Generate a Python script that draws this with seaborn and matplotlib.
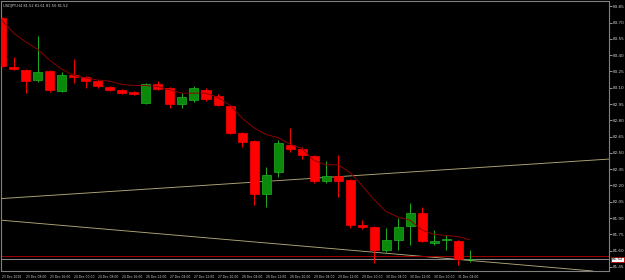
import matplotlib
matplotlib.use("Agg")
import matplotlib.pyplot as plt
import matplotlib.transforms as mtransforms
import seaborn as sns
import pandas as pd

title_text = "USDJPY,H4 81.52 81.61 81.50 81.52"

opens = [83.74, 83.29, 83.26, 83.17, 83.25, 83.07, 83.22, 83.20, 83.16, 83.11,
         83.08, 83.06, 82.96, 83.13, 83.10, 82.95, 82.99, 83.08, 83.02, 82.93,
         82.68, 82.61, 82.12, 82.32, 82.57, 82.54, 82.47, 82.24, 82.29, 82.25,
         81.84, 81.82, 81.61, 81.70, 81.83, 81.95, 81.67, 81.70, 81.69, 81.52]
highs = [83.75, 83.38, 83.27, 83.58, 83.26, 83.24, 83.36, 83.21, 83.17, 83.12,
         83.09, 83.07, 83.14, 83.16, 83.11, 83.05, 83.12, 83.10, 83.04, 82.94,
         82.69, 82.62, 82.37, 82.62, 82.73, 82.55, 82.48, 82.43, 82.48, 82.26,
         81.88, 81.83, 81.81, 81.90, 82.04, 82.00, 81.79, 81.74, 81.70, 81.61]
lows = [83.29, 83.26, 83.05, 83.15, 83.06, 83.06, 83.14, 83.10, 83.10, 83.07,
        83.04, 83.03, 82.95, 83.08, 82.91, 82.91, 82.97, 82.98, 82.93, 82.67,
        82.55, 82.02, 82.00, 82.28, 82.51, 82.44, 82.22, 82.22, 82.09, 81.81,
        81.80, 81.49, 81.59, 81.61, 81.65, 81.68, 81.65, 81.61, 81.47, 81.50]
closes = [83.30, 83.27, 83.16, 83.24, 83.08, 83.22, 83.20, 83.16, 83.12, 83.08,
          83.05, 83.04, 83.13, 83.09, 82.95, 83.01, 83.10, 83.00, 82.94, 82.68,
          82.60, 82.12, 82.30, 82.59, 82.54, 82.48, 82.24, 82.29, 82.24, 81.84,
          81.82, 81.61, 81.70, 81.82, 81.95, 81.69, 81.69, 81.71, 81.52, 81.52]

ma_values = [83.72, 83.60, 83.52, 83.45, 83.35, 83.27, 83.21, 83.19, 83.17, 83.16,
             83.13, 83.12, 83.12, 83.11, 83.08, 83.05, 83.05, 83.05, 83.01, 82.94,
             82.82, 82.73, 82.67, 82.64, 82.58, 82.54, 82.43, 82.39, 82.39, 82.32,
             82.20, 82.07, 81.96, 81.91, 81.88, 81.79, 81.75, 81.74, 81.73, 81.70]

x_labels = ["23 Dec 2010", "23 Dec 08:00", "23 Dec 16:00", "24 Dec 00:00",
            "24 Dec 08:00", "24 Dec 16:00", "26 Dec 22:00", "27 Dec 04:00",
            "27 Dec 12:00", "27 Dec 20:00", "28 Dec 04:00", "28 Dec 12:00",
            "28 Dec 20:00", "29 Dec 04:00", "29 Dec 12:00", "29 Dec 20:00",
            "30 Dec 04:00", "30 Dec 12:00", "30 Dec 20:00", "31 Dec 04:00"]
x_label_bars = [0, 2, 4, 6, 8, 10, 12, 14, 16, 18,
                20, 22, 24, 26, 28, 30, 32, 34, 36, 38]

y_ticks = [81.45, 81.60, 81.75, 81.90, 82.05, 82.20, 82.35, 82.50, 82.65,
           82.80, 82.95, 83.10, 83.25, 83.40, 83.55, 83.70, 83.85]

trend_a_x = [0, 39]
trend_a_y = [82.08, 82.36]
trend_b_x = [0, 39]
trend_b_y = [81.88, 81.51]

bid_price = 81.52
ask_price = 81.55

sns.set_theme(style="dark", rc={
    "axes.facecolor": "black",
    "figure.facecolor": "black",
    "axes.edgecolor": "#808080",
    "text.color": "#d0d0d0",
    "xtick.color": "#d0d0d0",
    "ytick.color": "#d0d0d0",
    "axes.grid": False,
})
plt.rcParams["font.family"] = ["DejaVu Sans"]

fig = plt.figure(figsize=(6.25, 2.8), dpi=100)
ax = fig.add_axes([1.5 / 625, 9 / 280, (609 - 1.5) / 625, 270 / 280])
ax.set_facecolor("black")

df = pd.DataFrame({"bar": range(len(opens)), "open": opens, "high": highs,
                   "low": lows, "close": closes, "ma": ma_values})

# trend lines
line_col = "#b0a878"
ax.axline((trend_a_x[0], trend_a_y[0]), (trend_a_x[1], trend_a_y[1]),
          color=line_col, lw=0.65, zorder=1)
ax.axline((trend_b_x[0], trend_b_y[0]), (trend_b_x[1], trend_b_y[1]),
          color=line_col, lw=0.65, zorder=1)

# bid / ask lines
ax.axhline(ask_price, color="#a00000", lw=0.7, zorder=1)
ax.axhline(bid_price, color="#8c8c8c", lw=0.7, zorder=1)

# candles
for _, r in df.iterrows():
    up = r["close"] >= r["open"]
    fill = "#0a8a0a" if up else "#ff0000"
    edge = "#22b022" if up else "#ff0000"
    ax.vlines(r["bar"], r["low"], r["high"], color=edge, lw=0.7, zorder=2)
    ax.bar(r["bar"], abs(r["close"] - r["open"]), bottom=min(r["open"], r["close"]),
           width=0.75, color=fill, edgecolor=edge, linewidth=0.5, zorder=3)

# moving average
sns.lineplot(data=df, x="bar", y="ma", ax=ax, color="#8b0000", lw=0.7, zorder=4)

ax.set_xlim(-0.04, 50.58)
ax.set_ylim(81.413, 83.898)
ax.set_xlabel("")
ax.set_ylabel("")

ax.yaxis.tick_right()
ax.set_yticks(y_ticks)
ax.set_yticklabels([f"{v:.2f}" for v in y_ticks])
ax.set_xticks(x_label_bars)
ax.set_xticklabels(x_labels, ha="left")
ax.tick_params(axis="y", direction="out", length=2, width=0.5, colors="#d0d0d0",
               labelsize=3, pad=1)
ax.tick_params(axis="x", direction="out", length=2, width=0.5, colors="#d0d0d0",
               labelsize=2.2, pad=1)
for s in ax.spines.values():
    s.set_color("#808080")
    s.set_linewidth(0.8)

# current price label
trans = mtransforms.blended_transform_factory(ax.transAxes, ax.transData)
ax.text(1.004, bid_price, f"{bid_price:.2f}", transform=trans, fontsize=3,
        color="black", va="center", ha="left",
        bbox=dict(facecolor="white", edgecolor="#c00000", pad=0.4, lw=0.6),
        clip_on=False, zorder=5)

ax.text(0.0025, 0.98, title_text, transform=ax.transAxes, fontsize=2.6,
        color="#d0d0d0", ha="left", va="center")

fig.savefig("out.png", dpi=100, facecolor="black")
